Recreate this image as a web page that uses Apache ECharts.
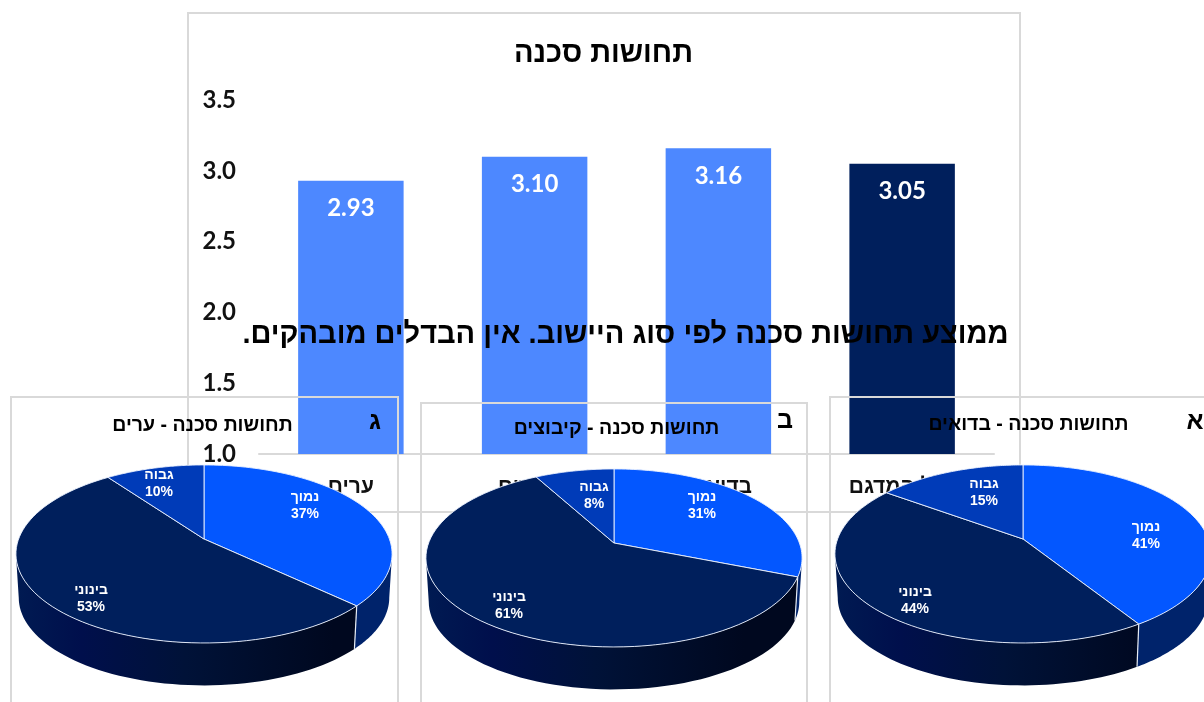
<!DOCTYPE html>
<html>
<head>
<meta charset="utf-8">
<style>
html, body { margin: 0; padding: 0; background: #fff; overflow: hidden; }
#container { width: 1204px; height: 702px; }
</style>
<script src="https://cdn.jsdelivr.net/npm/echarts@6/dist/echarts.min.js"></script>
</head>
<body>
<div id="container" dir="rtl"></div>
<script>
// bar chart
const categories = ['ערים', 'קיבוצים', 'בדואים', 'כלל המדגם'];
const barValues = [2.93, 3.10, 3.16, 3.05];

// pies, percent per level
const levels = ['נמוך', 'בינוני', 'גבוה'];
const citiesShares = [37, 53, 10];
const kibbutzShares = [31, 61, 8];
const bedouinShares = [41, 44, 15];

const FONT = '"Liberation Sans", Arial, sans-serif';
const NUM_FONT = 'Lato, "Liberation Sans", sans-serif';
const sliceColors = ['#0357ff', '#001f5c', '#003bb8'];

var dom = document.getElementById('container');
var myChart = echarts.init(dom, null, { renderer: 'canvas', useDirtyRect: false });

// the pies lean back: near rim is larger than far rim
const TILT = 0.168;
const WALL_SCALE = 0.985;
const WALL_DROP = 44;
// shares where the rim is widest, the wall is seen only between them
const WALL_FROM = Math.acos(-TILT) / (2 * Math.PI);
const WALL_TO = 1 - WALL_FROM;

function project(pie, share, scale, dy) {
    const a = share * 2 * Math.PI;
    const u = Math.sin(a), v = -Math.cos(a);
    const s = scale / (1 - TILT * v);
    return [pie.cx + pie.rx * u * s, pie.cy + dy + pie.ry * v * s];
}

function makePie(name, shares, pie) {
    return {
        type: 'custom',
        name: name,
        coordinateSystem: 'none',
        z: 10,
        silent: true,
        animation: false,
        clip: false,
        data: shares.map(function (v, i) { return [levels[i], v]; }),
        renderItem: function (params, api) {
            const i = params.dataIndex;
            const total = shares.reduce(function (a, b) { return a + b; }, 0);
            let before = 0;
            for (let k = 0; k < i; k++) before += shares[k];
            const start = before / total;
            const end = (before + api.value(1)) / total;
            const children = [];

            // top face
            const top = [[pie.cx, pie.cy]];
            for (let k = 0; k <= 80; k++) {
                top.push(project(pie, start + (end - start) * k / 80, 1, 0));
            }
            children.push({
                type: 'polygon', z2: 3,
                shape: { points: top },
                style: { fill: sliceColors[i], stroke: 'rgba(235,242,255,0.9)', lineWidth: 1, lineJoin: 'round' }
            });

            // side wall, front part only
            const from = Math.max(start, WALL_FROM), to = Math.min(end, WALL_TO);
            if (to > from) {
                const upper = [], lower = [];
                for (let k = 0; k <= 60; k++) {
                    const t = from + (to - from) * k / 60;
                    upper.push(project(pie, t, 1, 0));
                    lower.unshift(project(pie, t, WALL_SCALE, WALL_DROP));
                }
                const fill = i === 0 ? '#00236b' : new echarts.graphic.LinearGradient(
                    pie.cx - pie.rx, 0, pie.cx + pie.rx, 0,
                    [
                        { offset: 0, color: '#001a52' },
                        { offset: 0.17, color: '#000f4c' },
                        { offset: 0.45, color: '#001238' },
                        { offset: 0.85, color: '#00081f' },
                        { offset: 1, color: '#00081f' }
                    ], true);
                children.push({
                    type: 'polygon', z2: 1,
                    shape: { points: upper.concat(lower) },
                    style: { fill: fill }
                });
                if (i > 0 && start > WALL_FROM) {
                    const p0 = project(pie, start, 1, 0), p1 = project(pie, start, WALL_SCALE, WALL_DROP);
                    children.push({
                        type: 'line', z2: 2,
                        shape: { x1: p0[0], y1: p0[1], x2: p1[0], y2: p1[1] },
                        style: { stroke: '#e6ecf5', lineWidth: 1.2 }
                    });
                }
            }

            // label
            children.push({
                type: 'text', z2: 4,
                x: pie.cx + pie.labels[i][0],
                y: pie.cy + pie.labels[i][1] + 1,
                style: {
                    text: api.value(0) + '\n' + api.value(1) + '%',
                    fill: '#fff',
                    font: 'bold 14px ' + FONT,
                    lineHeight: 17,
                    align: 'center',
                    verticalAlign: 'middle'
                }
            });
            return { type: 'group', children: children };
        }
    };
}

function boxTitle(text, x, y, size) {
    return {
        text: text, left: x, top: y, textAlign: 'center', z: 12, padding: 0,
        textStyle: { fontFamily: FONT, fontSize: size, fontWeight: 'bold', color: '#000' }
    };
}

function frame(x, y, w, h, z) {
    return {
        type: 'rect', z: z, silent: true,
        shape: { x: x, y: y, width: w, height: h },
        style: { fill: 'none', stroke: '#d9d9d9', lineWidth: 2 }
    };
}

var option = {
    animation: false,
    backgroundColor: '#fff',
    title: [
        boxTitle('תחושות סכנה', 603.5, 39, 29),
        boxTitle('ממוצע תחושות סכנה לפי סוג היישוב. אין הבדלים מובהקים.', 625.5, 320, 29),
        boxTitle('תחושות סכנה - ערים', 202.5, 416, 19.5),
        boxTitle('תחושות סכנה - קיבוצים', 616.5, 419, 19.5),
        boxTitle('תחושות סכנה - בדואים', 1028.5, 415, 19.5),
        boxTitle('ג', 375, 410, 25),
        boxTitle('ב', 785, 409, 25),
        boxTitle('א', 1195, 410, 25)
    ],
    grid: { left: 259, right: 210, top: 100, bottom: 248, containLabel: false },
    xAxis: {
        type: 'category',
        data: categories,
        axisTick: { show: false },
        axisLine: { lineStyle: { color: '#d9d9d9', width: 2 } },
        axisLabel: { fontFamily: FONT, fontSize: 21, fontWeight: 'bold', color: '#111', margin: 23 }
    },
    yAxis: {
        type: 'value',
        min: 1,
        max: 3.5,
        interval: 0.5,
        splitLine: { show: false },
        axisLine: { show: false },
        axisTick: { show: false },
        axisLabel: {
            fontFamily: NUM_FONT, fontWeight: 'bold', fontSize: 24, color: '#111', margin: 23,
            formatter: function (v) { return v.toFixed(1); }
        }
    },
    graphic: {
        elements: [
            frame(188, 13, 832, 499, 1),
            frame(11, 397, 387, 320, 8),
            frame(421, 403, 386, 320, 8),
            frame(830, 397, 386, 320, 8)
        ]
    },
    series: [
        {
            type: 'bar',
            name: 'תחושות סכנה',
            data: barValues,
            barWidth: '57.4%',
            z: 2,
            itemStyle: {
                color: function (p) { return p.dataIndex === 3 ? '#001f5c' : '#4d88ff'; }
            },
            label: {
                show: true,
                position: 'insideTop',
                distance: 16,
                fontFamily: NUM_FONT,
                fontWeight: 'bold',
                fontSize: 24,
                color: '#fff',
                formatter: function (p) { return p.value.toFixed(2); }
            }
        },
        makePie('תחושות סכנה - ערים', citiesShares, {
            cx: 204, cy: 539, rx: 185.4, ry: 86.5,
            labels: [[101, -34], [-113, 59], [-45, -56]]
        }),
        makePie('תחושות סכנה - קיבוצים', kibbutzShares, {
            cx: 614, cy: 543, rx: 185.4, ry: 86.5,
            labels: [[88, -38], [-105, 62], [-20, -48]]
        }),
        makePie('תחושות סכנה - בדואים', bedouinShares, {
            cx: 1023, cy: 539, rx: 185.4, ry: 86.5,
            labels: [[123, -4], [-108, 61], [-39, -47]]
        })
    ]
};

myChart.setOption(option);
window.addEventListener('resize', myChart.resize);
</script>
</body>
</html>
